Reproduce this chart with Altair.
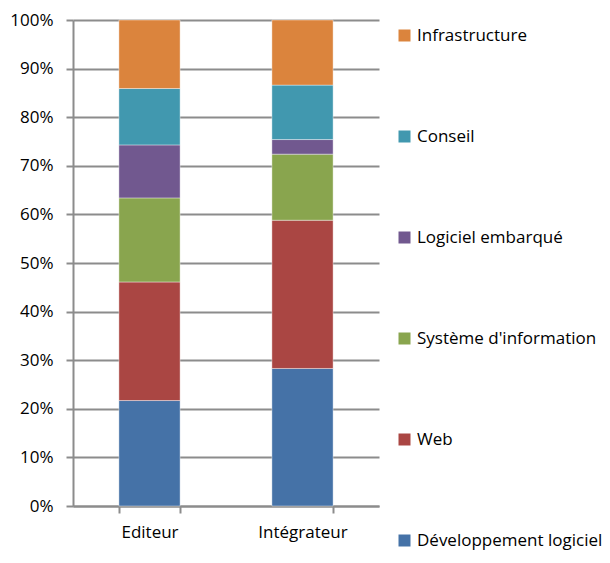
import altair as alt
import pandas as pd

categories = ["Editeur", "Intégrateur"]
series = ["Développement logiciel", "Web", "Système d'information",
          "Logiciel embarqué", "Conseil", "Infrastructure"]
colors = ["#4572A7", "#AA4643", "#89A54E", "#71588F", "#4198AF", "#DB843D"]
editeur = [21.7, 24.4, 17.3, 10.9, 11.6, 14.1]
integrateur = [28.3, 30.5, 13.6, 3.0, 11.2, 13.4]
y_ticks = [0, 10, 20, 30, 40, 50, 60, 70, 80, 90, 100]

rows = []
for i, s in enumerate(series):
    rows.append({"cat": categories[0], "serie": s, "val": editeur[i], "ord": i})
    rows.append({"cat": categories[1], "serie": s, "val": integrateur[i], "ord": i})
df = pd.DataFrame(rows)

FONT = "Open Sans"
GREY = "#8c8c8c"

chart = alt.Chart(df).mark_bar(stroke="white", strokeWidth=0.4).encode(
    x=alt.X("cat:N", sort=categories, title=None,
            scale=alt.Scale(paddingInner=0.6, paddingOuter=0.3),
            axis=alt.Axis(labelAngle=0, tickBand="extent", labelPadding=11,
                          labelFontSize=17, labelFont=FONT, labelColor="#000",
                          domainColor=GREY, domainWidth=2, tickColor=GREY,
                          tickWidth=2, tickSize=7, grid=False)),
    y=alt.Y("val:Q", stack="zero", title=None,
            scale=alt.Scale(domain=[0, 100], nice=False),
            axis=alt.Axis(values=y_ticks, labelExpr="datum.value + '%'",
                          labelFontSize=17, labelFont=FONT, labelColor="#000",
                          labelPadding=13, domainColor=GREY, domainWidth=2,
                          tickColor=GREY, tickWidth=2, tickSize=7,
                          grid=True, gridColor=GREY, gridWidth=2)),
    color=alt.Color("serie:N",
                    scale=alt.Scale(domain=series[::-1], range=colors[::-1]),
                    legend=alt.Legend(title=None, orient="none", legendX=323, legendY=7,
                                      symbolType="square", symbolSize=144,
                                      symbolStrokeWidth=0, labelFont=FONT,
                                      labelFontSize=17, labelColor="#000",
                                      labelOffset=4, rowPadding=83, labelLimit=300)),
    order=alt.Order("ord:Q", sort="ascending"),
).properties(
    width=306, height=486,
    padding={"left": 65, "top": 12, "right": 223, "bottom": 49},
    autosize=alt.AutoSizeParams(type="none"),
).configure_view(stroke=None).configure_axis(gridCap="butt")

chart.save("out.html", embed_options={"renderer": "svg", "actions": False})
